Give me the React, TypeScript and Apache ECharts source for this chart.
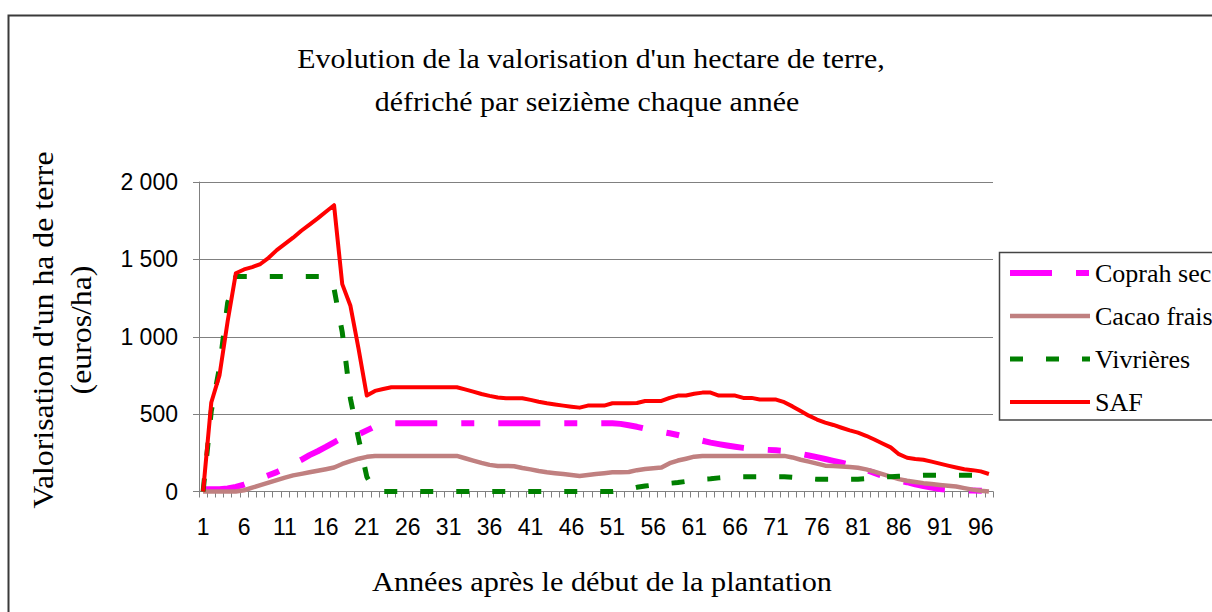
import React, { useEffect, useRef } from "react";
import * as echarts from "echarts";

const years = [
  "1","2","3","4","5","6","7","8","9","10","11","12","13","14","15","16","17","18","19","20",
  "21","22","23","24","25","26","27","28","29","30","31","32","33","34","35","36","37","38","39","40",
  "41","42","43","44","45","46","47","48","49","50","51","52","53","54","55","56","57","58","59","60",
  "61","62","63","64","65","66","67","68","69","70","71","72","73","74","75","76","77","78","79","80",
  "81","82","83","84","85","86","87","88","89","90","91","92","93","94","95","96","97"
];

const coprahSec = [
  15, 15, 15, 20, 30, 45, 65, 85, 105, 125,
  150, 178, 205, 235, 260, 288, 318, 346, 358, 370,
  395, 420, 438, 441, 441, 441, 441, 441, 441, 441,
  441, 441, 441, 441, 441, 441, 441, 441, 441, 441,
  441, 441, 441, 441, 441, 441, 441, 441, 441, 441,
  441, 437, 428, 418, 406, 396, 386, 376, 365, 352,
  340, 328, 316, 306, 297, 289, 282, 276, 272, 269,
  266, 262, 253, 243, 233, 222, 210, 198, 186, 174,
  158, 139, 120, 100, 86, 72, 60, 46, 36, 26,
  16, 12, 10, 8, 6, 5, 4
];

const cacaoFrais = [
  0, 0, 0, 0, 0, 8, 25, 41, 58, 74,
  90, 104, 114, 124, 134, 144, 155, 178, 196, 212,
  224, 230, 230, 230, 230, 230, 230, 230, 230, 230,
  230, 230, 215, 200, 185, 172, 165, 165, 163, 152,
  143, 132, 124, 118, 113, 106, 100, 106, 113, 118,
  124, 124, 126, 138, 145, 150, 155, 183, 200, 212,
  225, 230, 230, 230, 230, 230, 230, 230, 230, 230,
  230, 230, 220, 205, 193, 180, 167, 164, 162, 159,
  153, 143, 128, 112, 96, 80, 70, 62, 54, 48,
  42, 37, 32, 22, 12, 5, 0
];

const vivrieres = [
  0, 520, 800, 1220, 1390, 1390, 1390, 1390, 1390, 1390,
  1390, 1390, 1390, 1390, 1390, 1390, 1310, 1030, 600, 340,
  95, 0, 0, 0, 0, 0, 0, 0, 0, 0,
  0, 0, 0, 0, 0, 0, 0, 0, 0, 0,
  0, 0, 0, 0, 0, 0, 0, 0, 0, 0,
  0, 5, 15, 27, 35, 42, 48, 53, 58, 65,
  75, 79, 82, 88, 93, 96, 96, 96, 96, 96,
  96, 96, 92, 88, 83, 79, 79, 79, 79, 79,
  79, 83, 88, 93, 96, 98, 100, 103, 105, 105,
  105, 105, 105, 105, 105, 105, 105
];

const saf = [
  0, 575, 750, 1100, 1410, 1435, 1450, 1470, 1510, 1560,
  1600, 1640, 1685, 1725, 1765, 1808, 1850, 1340, 1200, 920,
  620, 650, 662, 674, 674, 674, 674, 674, 674, 674,
  674, 674, 660, 645, 630, 618, 608, 603, 603, 603,
  592, 580, 570, 562, 555, 548, 542, 555, 555, 555,
  570, 570, 570, 572, 585, 585, 585, 605, 620, 620,
  632, 639, 639, 620, 620, 620, 605, 605, 594, 594,
  594, 577, 550, 520, 490, 465, 445, 430, 412, 395,
  380, 360, 336, 310, 285, 241, 218, 210, 205, 193,
  180, 167, 155, 144, 138, 130, 113
];

const yTicks = [0, 500, 1000, 1500, 2000];

const titleLines = [
  "Evolution de la valorisation d'un hectare de terre,",
  "défriché par seizième chaque année",
];
const xTitle = "Années après le début de la plantation";
const yTitle = "Valorisation d'un ha de terre\n(euros/ha)";
const seriesNames = ["Coprah sec", "Cacao frais", "Vivrières", "SAF"];

const SERIF = "'Liberation Serif', 'Times New Roman', serif";
const SANS = "'Liberation Sans', Arial, sans-serif";

function fmt(v: number): string {
  if (v >= 1000) {
    const th = Math.floor(v / 1000);
    const rest = String(v % 1000).padStart(3, "0");
    return th + " " + rest;
  }
  return String(v);
}

export default function App() {
  const ref = useRef<HTMLDivElement>(null);
  useEffect(() => {
    if (!ref.current) return;
    const chart = echarts.init(ref.current, null, { renderer: "svg" });
    const styles = [
      { color: "#FF00FF", width: 6, type: [42, 24, 13, 24] as any },
      { color: "#C08080", width: 4.5, type: "solid" as any },
      { color: "#008000", width: 5, type: [13, 23] as any },
      { color: "#FF0000", width: 4, type: "solid" as any },
    ];
    const dataSets = [coprahSec, cacaoFrais, vivrieres, saf];
    const option: any = {
      animation: false,
      backgroundColor: "#ffffff",
      grid: { left: 199, top: 182, width: 794, height: 309.5, containLabel: false },
      xAxis: {
        type: "category",
        data: years,
        boundaryGap: true,
        axisLine: { show: true, lineStyle: { color: "#808080", width: 1 } },
        axisTick: { show: true, interval: 0, length: 6, inside: false, lineStyle: { color: "#808080", width: 1 } },
        axisLabel: { interval: 4, margin: 24, color: "#000", fontFamily: SANS, fontSize: 23 },
        splitLine: { show: false },
      },
      yAxis: {
        type: "value",
        min: yTicks[0],
        max: yTicks[yTicks.length - 1],
        interval: 500,
        axisLine: { show: true, lineStyle: { color: "#808080", width: 1 } },
        axisTick: { show: true, length: 6, inside: false, lineStyle: { color: "#808080", width: 1 } },
        axisLabel: { margin: 21, color: "#000", fontFamily: SANS, fontSize: 23, formatter: (v: number) => fmt(v) },
        splitLine: { show: true, lineStyle: { color: "#808080", width: 1 } },
      },
      legend: {
        orient: "vertical",
        left: 1007,
        top: 260,
        padding: 0,
        itemWidth: 80,
        itemHeight: 10,
        itemGap: 17,
        itemStyle: { opacity: 0 },
        textStyle: { fontFamily: SERIF, fontSize: 26, lineHeight: 26, color: "#000" },
        data: seriesNames.map((n, i) => ({ name: n, lineStyle: { width: styles[i].width, type: styles[i].type, color: styles[i].color } })),
      },
      series: seriesNames.map((n, i) => ({
        name: n,
        type: "line",
        data: dataSets[i],
        symbol: "none",
        showSymbol: false,
        smooth: false,
        clip: false,
        lineStyle: { color: styles[i].color, width: styles[i].width, type: styles[i].type, cap: "butt", join: "round" },
        itemStyle: { color: styles[i].color },
        emphasis: { disabled: true },
        z: 2 + i,
      })),
      graphic: [
        {
          type: "rect",
          shape: { x: 8.5, y: 15.5, width: 1400, height: 800 },
          style: { fill: "none", stroke: "#3a3a3a", lineWidth: 2 },
          silent: true,
        },
        {
          type: "polyline",
          shape: { points: [[1300, 252.5], [999.5, 252.5], [999.5, 420], [1300, 420]] },
          style: { fill: "none", stroke: "#444", lineWidth: 1.5 },
          silent: true,
        },
        {
          type: "text",
          x: 591,
          y: 58,
          scaleX: 1.067,
          style: { text: titleLines[0], fill: "#000", fontFamily: SERIF, fontSize: 28, align: "center", verticalAlign: "middle" },
        },
        {
          type: "text",
          x: 587,
          y: 101,
          scaleX: 1.067,
          style: { text: titleLines[1], fill: "#000", fontFamily: SERIF, fontSize: 28, align: "center", verticalAlign: "middle" },
        },
        {
          type: "text",
          x: 602,
          y: 581,
          scaleX: 1.08,
          style: { text: xTitle, fill: "#000", fontFamily: SERIF, fontSize: 28, align: "center", verticalAlign: "middle" },
        },
        {
          type: "text",
          x: 62,
          y: 330,
          rotation: Math.PI / 2,
          scaleX: 1.06,
          style: { text: yTitle, fill: "#000", fontFamily: SERIF, fontSize: 30, lineHeight: 38, align: "center", verticalAlign: "middle" },
        },
      ],
    };
    chart.setOption(option);
    return () => chart.dispose();
  }, []);
  return (
    <div
      ref={ref}
      style={{ position: "fixed", left: 0, top: 0, width: 1212, height: 612, background: "#fff" }}
    />
  );
}
